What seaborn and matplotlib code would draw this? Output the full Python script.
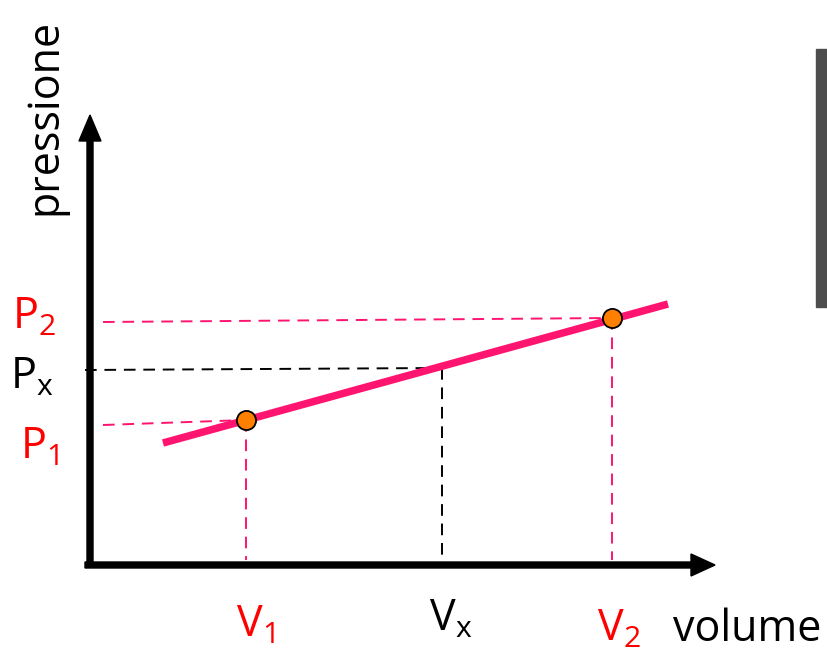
import matplotlib
matplotlib.use("Agg")
import matplotlib.pyplot as plt
import pandas as pd
import seaborn as sns
from matplotlib.patches import Rectangle

# data (arbitrary units, origin at the axes corner)
line_volume = [0.73, 5.78]
line_pressure = [1.20, 2.59]
point_volume = [1.56, 5.22]
point_pressure = [1.43, 2.45]
vx = 3.52
px = 1.93
pressure_labels = ["P$_2$", "P$_x$", "P$_1$"]
volume_labels = ["V$_1$", "V$_x$", "V$_2$"]

pink = "#ff1470"
red = "#ff0000"

sns.set_theme(style="white")
plt.rcParams['font.family'] = ['Open Sans', 'DejaVu Sans']
plt.rcParams['mathtext.default'] = 'regular'

fig = plt.figure(figsize=(8.27, 6.59), dpi=100)
ax = fig.add_axes([0, 0, 1, 1])
ax.set_xlim(-0.90, 7.37)
ax.set_ylim(-0.96, 5.63)
ax.axis("off")

# axes with arrows
ax.arrow(0.0, -0.02, 0, 4.50, width=0.06, head_width=0.22, head_length=0.26,
         length_includes_head=True, color="black", zorder=3)
ax.arrow(-0.05, -0.02, 6.30, 0, width=0.06, head_width=0.22, head_length=0.24,
         length_includes_head=True, color="black", zorder=3)

# dashed guides
dash = dict(lw=1.4, ls=(0, (6, 4)), zorder=2)
ax.plot([0.13, point_volume[1]], [2.41, point_pressure[1]], color=pink, **dash)
ax.plot([point_volume[1], point_volume[1]], [point_pressure[1], 0.03], color=pink, **dash)
ax.plot([0.13, point_volume[0]], [1.38, point_pressure[0]], color=pink, **dash)
ax.plot([point_volume[0], point_volume[0]], [point_pressure[0], 0.03], color=pink, **dash)
ax.plot([-0.05, vx - 0.02], [px, 1.95], color="black", **dash)
ax.plot([vx, vx], [1.95, 0.08], color="black", **dash)

# main line and points
df_line = pd.DataFrame({"volume": line_volume, "pressione": line_pressure})
sns.lineplot(data=df_line, x="volume", y="pressione", color=pink, lw=5.4,
             solid_capstyle="butt", ax=ax, zorder=4)
df_pts = pd.DataFrame({"volume": point_volume, "pressione": point_pressure})
sns.scatterplot(data=df_pts, x="volume", y="pressione", color="#ff7f00",
                edgecolor="black", linewidth=1.3, s=190, ax=ax, zorder=5)
ax.set_xlabel("")
ax.set_ylabel("")

# labels
fs = 31
ax.text(-0.78, 2.45, pressure_labels[0], color=red, fontsize=fs, ha="left", va="center")
ax.text(-0.80, 1.85, pressure_labels[1], color="black", fontsize=fs, ha="left", va="center")
ax.text(-0.70, 1.15, pressure_labels[2], color=red, fontsize=fs, ha="left", va="center")
ax.text(point_volume[0] + 0.09, -0.63, volume_labels[0], color=red, fontsize=fs, ha="center", va="center")
ax.text(vx + 0.09, -0.57, volume_labels[1], color="black", fontsize=fs, ha="center", va="center")
ax.text(point_volume[1] + 0.07, -0.67, volume_labels[2], color=red, fontsize=fs, ha="center", va="center")
ax.text(6.57, -0.67, "volume", color="black", fontsize=fs, ha="center", va="center")
ax.text(-0.45, 4.46, "pressione", color="black", fontsize=fs, ha="center", va="center", rotation=90)

# grey bar on the right edge
ax.add_patch(Rectangle((7.26, 2.56), 0.12, 2.58, color="#4d4d4d", zorder=1))

fig.savefig("out.png", dpi=100)
